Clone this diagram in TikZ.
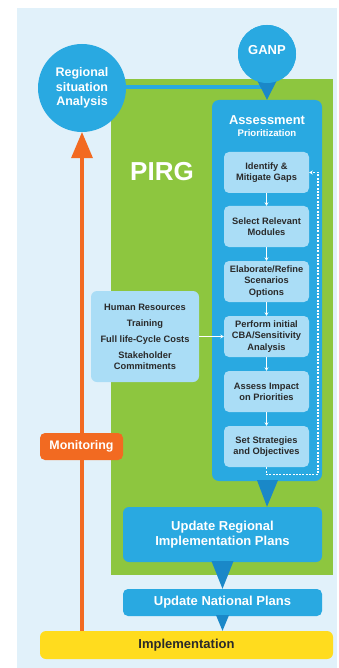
\documentclass[tikz,border=0pt]{standalone}
\usepackage{fontspec}
\setmainfont{Liberation Sans}
\usetikzlibrary{calc,arrows.meta}
\definecolor{bgblue}{HTML}{E1F1FA}
\definecolor{pirggreen}{HTML}{8DC63F}
\definecolor{mainblue}{HTML}{29A9E1}
\definecolor{darkblue}{HTML}{1A88C8}
\definecolor{lightbox}{HTML}{AADDF6}
\definecolor{orangec}{HTML}{F26A21}
\definecolor{yellowc}{HTML}{FFDC1E}
\definecolor{darktext}{HTML}{2A2A2A}
\tikzset{
  stepbox/.style={fill=lightbox, rounded corners=5pt, minimum width=85pt, minimum height=41pt,
    inner sep=1pt, align=center, text=darktext, font=\bfseries\fontsize{9.3}{11.2}\selectfont},
  bluebox/.style={fill=mainblue, rounded corners=6pt, inner sep=0pt, align=center, text=white,
    font=\bfseries\fontsize{13}{15}\selectfont},
  bluecircle/.style={circle, fill=mainblue, inner sep=0pt, align=center, text=white,
    font=\bfseries\fontsize{12.5}{14.5}\selectfont},
  flowarrow/.style={white, line width=1pt, -{Stealth[length=3.5pt,width=4pt]}},
  pointer/.style={fill=darkblue},
}
\begin{document}
\begin{tikzpicture}[x=1pt,y=-1pt]
\useasboundingbox (0,0) rectangle (339,668);
% background
\fill[bgblue] (17,8) rectangle (337,668);
% PIRG green area
\fill[pirggreen] (111,79) rectangle (333,575);
\node[text=white, font=\bfseries\fontsize{26}{28}\selectfont] (pirg) at (162,172) {PIRG};

% Regional situation analysis
\node[bluecircle, minimum size=88pt] (rsa) at (82,88) {Regional\\situation\\Analysis};
% GANP
\node[bluecircle, minimum size=58pt] (ganp) at (267,54) {};
\node[text=white, font=\bfseries\fontsize{13}{15}\selectfont] (ganptext) at (267,50) {GANP};

% Assessment box
\node[bluebox, rounded corners=7pt, minimum width=110pt, minimum height=381pt] (assess) at (267,290.5) {};
\node[text=white, font=\bfseries\fontsize{12.9}{14}\selectfont] (asst) at (267,120) {Assessment};
\node[text=white, font=\bfseries\fontsize{9.6}{11}\selectfont] (prio) at (267,133) {Prioritization};

% connector line Regional -> GANP
\draw[mainblue, line width=4pt] (rsa.east |- 0,87) -- (263,87) coordinate (lineend);
% GANP pointer
\fill[pointer] ($(ganp.south)+(-11,-5)$) -- ($(ganp.south)+(11,-5)$) -- (assess.north) -- cycle;
\node[bluecircle, minimum size=58pt] at (ganp) {};
\node[text=white, font=\bfseries\fontsize{13}{15}\selectfont] at (ganptext) {GANP};

% steps
\node[stepbox] (s1) at (266.5,172.5) {Identify \&\\Mitigate Gaps};
\node[stepbox] (s2) at (266.5,226.5) {Select Relevant\\Modules};
\node[stepbox] (s3) at (266.5,281.5) {Elaborate/Refine\\Scenarios\\Options};
\node[stepbox] (s4) at (266.5,336.5) {Perform initial\\CBA/Sensitivity\\Analysis};
\node[stepbox] (s5) at (266.5,391.5) {Assess Impact\\on Priorities};
\node[stepbox] (s6) at (266.5,446.5) {Set Strategies\\and Objectives};
\foreach \a/\b in {s1/s2,s2/s3,s3/s4,s4/s5,s5/s6}
  \draw[flowarrow] (\a.south) -- (\b.north);
% dashed feedback loop
\coordinate (dturn) at ($(s6.south)+(0,7)$);
\coordinate (dright) at (318,0);
\draw[white, line width=1.3pt, dash pattern=on 2pt off 1.3pt, -{Stealth[length=3.5pt,width=4pt]}]
  (s6.south) -- (dturn) -- (dturn -| dright) -- (s1.east -| dright) -- (s1.east);

% Human resources box
\node[fill=lightbox, rounded corners=6pt, minimum width=108pt, minimum height=91pt, inner sep=1pt,
  align=center, text=darktext, font=\bfseries\fontsize{9.3}{11}\selectfont] (hr) at (145,336.5)
  {Human Resources\\[5pt]Training\\[5pt]Full life-Cycle Costs\\[5pt]Stakeholder\\Commitments};
\draw[flowarrow] (hr.east) -- (s4.west);

% Update regional implementation plans
\node[bluebox, minimum width=199pt, minimum height=55pt] (upreg) at (222.5,534.5) {Update Regional\\Implementation Plans};
\fill[pointer] ($(assess.south)+(-10,-1)$) -- ($(assess.south)+(11,-1)$) -- (assess.south |- upreg.north) -- cycle;
% Update national plans
\node[bluebox, rounded corners=5pt, minimum width=199pt, minimum height=27pt] (upnat) at (222.5,602.5) {Update National Plans};
\fill[pointer] ($(upreg.south)+(-11,-1)$) -- ($(upreg.south)+(11,-1)$) -- (upnat.north) -- cycle;
% Implementation
\node[fill=yellowc, rounded corners=6pt, minimum width=293pt, minimum height=28pt, inner sep=0pt,
  text=darktext, font=\bfseries\fontsize{13}{15}\selectfont] (impl) at (186.5,645) {Implementation};
\fill[pointer] ($(upnat.south)+(-6.5,-1)$) -- ($(upnat.south)+(6.5,-1)$) -- (upnat.south |- impl.north) -- cycle;

% Monitoring feedback arrow
\draw[orangec, line width=4pt] (impl.north -| rsa.south) -- ($(rsa.south)+(0,26)$);
\fill[orangec] ($(rsa.south)+(-11,26)$) -- ($(rsa.south)+(11,26)$) -- (rsa.south) -- cycle;
\node[fill=orangec, rounded corners=5pt, minimum width=83pt, minimum height=27pt, inner sep=0pt,
  text=white, font=\bfseries\fontsize{12.4}{14}\selectfont] (mon) at (81.5,446.5) {Monitoring};
\end{tikzpicture}
\end{document}
